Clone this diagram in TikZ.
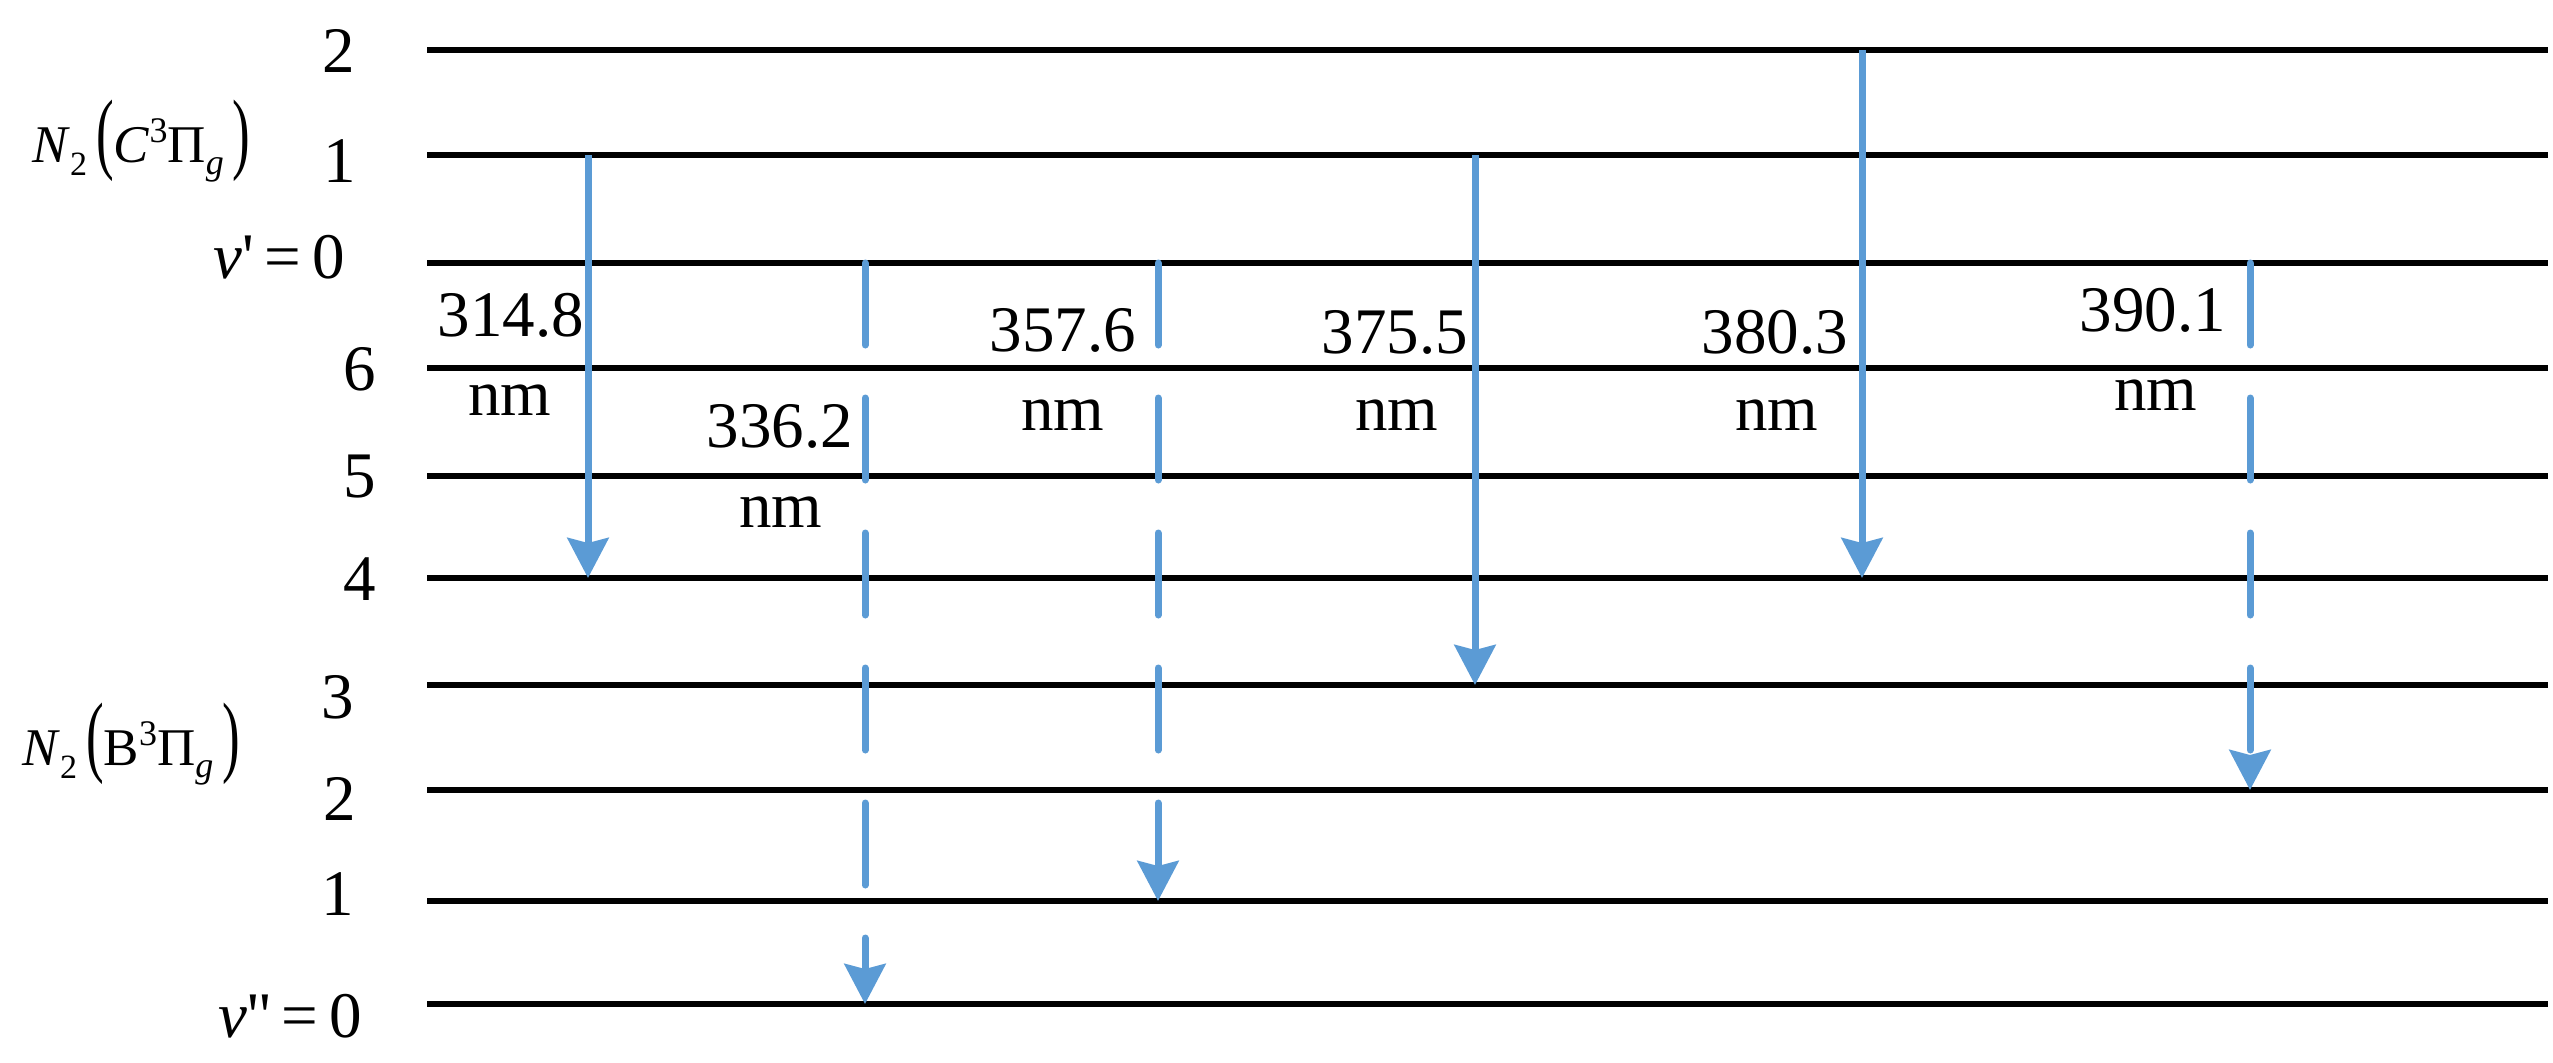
\documentclass[tikz,border=0pt]{standalone}
\usepackage{fontspec}
\usepackage{graphicx}
\setmainfont{Liberation Serif}
\usetikzlibrary{arrows.meta}
\definecolor{arrowblue}{HTML}{5B9BD5}
\newcommand{\tallparen}[1]{\scalebox{1}[1.7]{#1}}
\tikzset{
  level/.style={line width=3.25pt, black},
  trans/.style={line width=3.5pt, arrowblue, -{Stealth[width=20.5pt,length=20pt,inset=2.5pt]}},
  dtrans/.style={trans, line cap=round, dash pattern=on 41pt off 26.5pt},
  wl/.style={anchor=base, inner sep=0pt, font=\fontsize{32.5}{39}\selectfont},
  vl/.style={anchor=base, inner sep=0pt, font=\fontsize{32.5}{39}\selectfont},
  vle/.style={anchor=base east, inner sep=0pt, font=\fontsize{32.5}{39}\selectfont},
  st/.style={anchor=base west, inner sep=0pt, font=\fontsize{26.5}{30}\selectfont},
}
\begin{document}
\begin{tikzpicture}[x=0.5pt,y=-0.5pt]
\useasboundingbox (0,0) rectangle (2553,1062);
% level lines
\foreach \n/\yy in {C2/50,C1/155,C0/263,B6/368,B5/476,B4/578,B3/685,B2/790,B1/901,B0/1004}{
  \coordinate (\n w) at (427,\yy);
  \coordinate (\n e) at (2548,\yy);
  \draw[level] (\n w) -- (\n e);
}
% level labels
\node[vl] (lC2) at (339,72) {2};
\node[vl] (lC1) at (340,182) {1};
\node[vle] (lC0) at (345,278) {\textit{v}\textquotesingle\,=\,0};
\node[vl] (lB6) at (360,390) {6};
\node[vl] (lB5) at (360,497) {5};
\node[vl] (lB4) at (360,600) {4};
\node[vl] (lB3) at (338,718) {3};
\node[vl] (lB2) at (340,820) {2};
\node[vl] (lB1) at (338,915) {1};
\node[vle] (lB0) at (362,1037) {\textit{v}\textquotesingle\textquotesingle\,=\,0};
% state labels
\node[st] (stC) at (32,162) {\textit{N}\raisebox{-6.5pt}{\fontsize{17}{20}\selectfont 2}\,\tallparen{(}\textit{C}\raisebox{10pt}{\fontsize{18}{20}\selectfont 3}Π\raisebox{-6pt}{\fontsize{18}{20}\selectfont\textit{g}}\,\tallparen{)}};
\node[st] (stB) at (22,765) {\textit{N}\raisebox{-6.5pt}{\fontsize{17}{20}\selectfont 2}\,\tallparen{(}B\raisebox{10pt}{\fontsize{18}{20}\selectfont 3}Π\raisebox{-6pt}{\fontsize{18}{20}\selectfont\textit{g}}\,\tallparen{)}};
% transition end points
\coordinate (t1s) at (588,155);  \coordinate (t1e) at (588,578);
\coordinate (t2s) at (865,263);  \coordinate (t2e) at (865,1004);
\coordinate (t3s) at (1158,263); \coordinate (t3e) at (1158,901);
\coordinate (t4s) at (1475,155); \coordinate (t4e) at (1475,685);
\coordinate (t5s) at (1862,50);  \coordinate (t5e) at (1862,578);
\coordinate (t6s) at (2250,263); \coordinate (t6e) at (2250,790);
\draw[trans] (t1s) -- (t1e);
\draw[dtrans] (t2s) -- (t2e);
\draw[dtrans] (t3s) -- (t3e);
\draw[trans] (t4s) -- (t4e);
\draw[trans] (t5s) -- (t5e);
\draw[dtrans] (t6s) -- (t6e);
% wavelength labels
\node[wl] (w1) at (511,336) {314.8};
\node[wl] (n1) at (510,415) {nm};
\node[wl] (w2) at (780,447) {336.2};
\node[wl] (n2) at (781,527) {nm};
\node[wl] (w3) at (1063,351) {357.6};
\node[wl] (n3) at (1063,430) {nm};
\node[wl] (w4) at (1395,353) {375.5};
\node[wl] (n4) at (1397,430) {nm};
\node[wl] (w5) at (1775,353) {380.3};
\node[wl] (n5) at (1777,430) {nm};
\node[wl] (w6) at (2153,331) {390.1};
\node[wl] (n6) at (2156,410) {nm};
\end{tikzpicture}
\end{document}
